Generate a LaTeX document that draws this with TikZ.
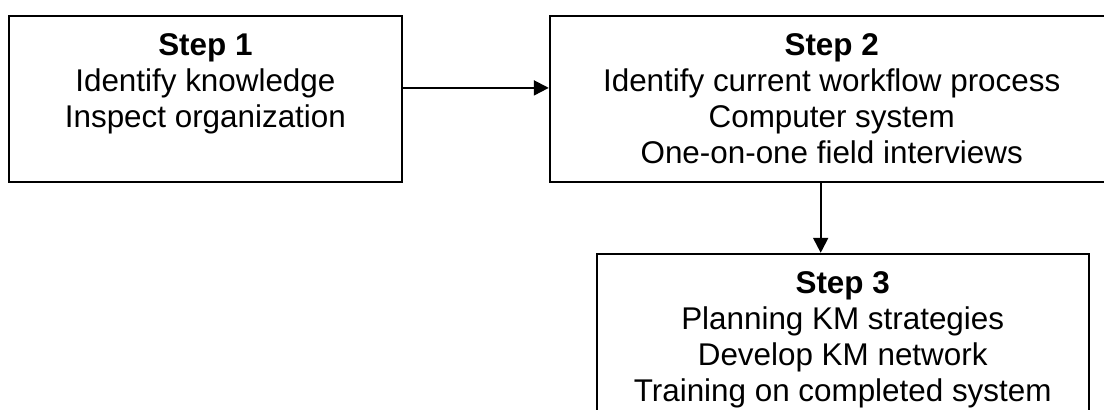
\documentclass[tikz,border=0pt]{standalone}
\usepackage{fontspec}
\setmainfont{Liberation Sans}
\usetikzlibrary{arrows.meta, positioning}

\begin{document}
\begin{tikzpicture}[
  x=0.5pt, y=-0.5pt,
  node distance=35pt,
  box/.style={draw, line width=0.9pt, align=center, inner xsep=0pt, inner ysep=0pt,
    font=\fontsize{15.7}{18}\selectfont},
  three/.style={text height=56pt, text depth=27pt},
  four/.style={text height=74pt, text depth=9pt},
  arrow/.style={-{Triangle[length=7.5pt, width=7.5pt]}, line width=1pt}
]
\useasboundingbox (0,0) rectangle (1104,409);
\node[box, three, minimum width=196.5pt, anchor=north west] (step1) at (8,15) {\textbf{Step 1}\\Identify knowledge\\Inspect organization};
\node[box, four, minimum width=282pt, right=73pt of step1] (step2) {\textbf{Step 2}\\Identify current workflow process\\Computer system\\One-on-one field interviews};
\node[box, four, minimum width=246pt, below=of step2, xshift=5.5pt] (step3) {\textbf{Step 3}\\Planning KM strategies\\Develop KM network\\Training on completed system};
\draw[arrow] ([yshift=5.5pt]step1.east) -- ([yshift=5.5pt]step1.east -| step2.west);
\draw[arrow] ([xshift=-5.5pt]step2.south) -- ([xshift=-5.5pt]step2.south |- step3.north);
\end{tikzpicture}
\end{document}
